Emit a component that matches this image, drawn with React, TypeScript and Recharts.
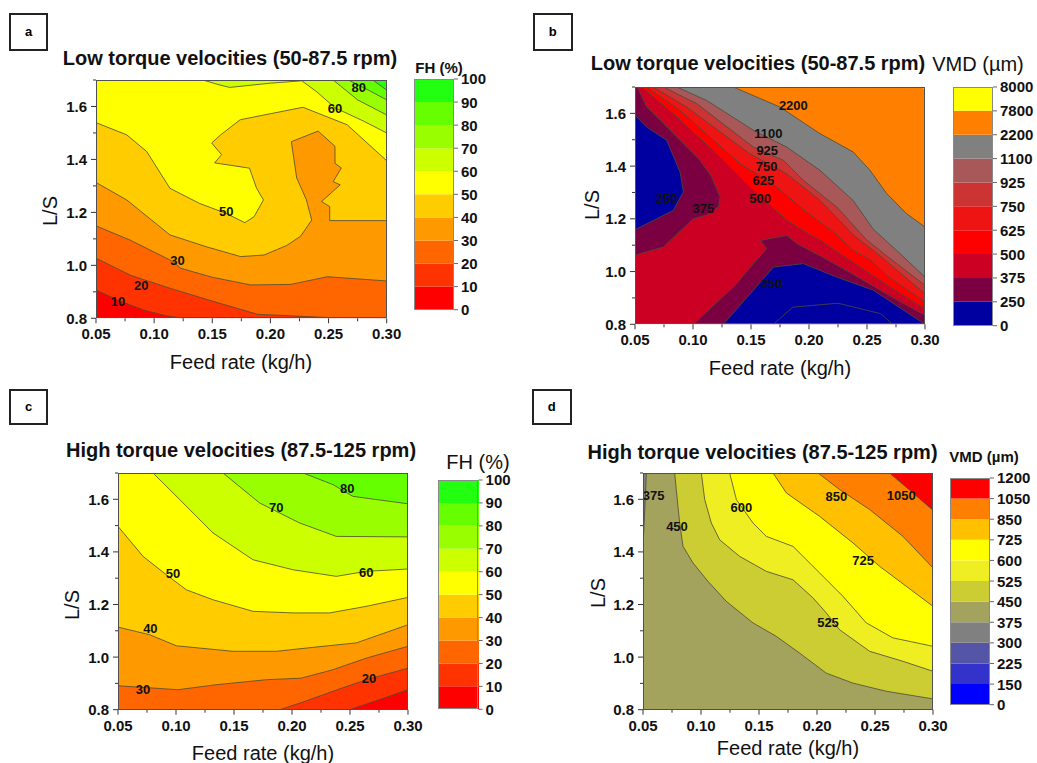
import React from 'react';
import { ComposedChart, Area, Line, Scatter, XAxis, YAxis, BarChart, Bar } from 'recharts';

type Pt = { x: number; y: number };
type Label = { x: number; y: number; t: string };
type Box = { l: number; t: number; r: number; b: number };

const FONT = '"Liberation Sans", Arial, Helvetica, sans-serif';

const X_TICKS = [0.05, 0.075, 0.1, 0.125, 0.15, 0.175, 0.2, 0.225, 0.25, 0.275, 0.3];
const Y_TICKS = [0.8, 0.9, 1.0, 1.1, 1.2, 1.3, 1.4, 1.5, 1.6, 1.7];

// colour scales
const FH_LEVELS = ['0', '10', '20', '30', '40', '50', '60', '70', '80', '90', '100'];
const FH_COLORS = ['#FF0000', '#FF3300', '#FF6600', '#FF9900', '#FFCC00', '#FFFF00', '#CCFF00', '#99FF00', '#66FF00', '#22FF11'];
const VMD_LOW_LEVELS = ['0', '250', '375', '500', '625', '750', '925', '1100', '2200', '7800', '8000'];
const VMD_LOW_COLORS = ['#0000A0', '#7A0042', '#CC0022', '#FF0000', '#EE1414', '#CC3434', '#A85858', '#808080', '#FF8000', '#FFFF00'];
const VMD_HIGH_LEVELS = ['0', '150', '225', '300', '375', '450', '525', '600', '725', '850', '1050', '1200'];
const VMD_HIGH_COLORS = ['#0000FF', '#3333CC', '#5555A8', '#808080', '#A3A35E', '#CCCC33', '#EEEE22', '#FFFF00', '#FFC000', '#FF8000', '#FF0000'];

// (a) FH, low torque - contour lines [feed rate, L/S]
const A_C10 = [[0.05, 0.907], [0.069, 0.868], [0.091, 0.831], [0.11, 0.81], [0.125, 0.8]];
const A_C20 = [[0.05, 1.027], [0.08, 0.962], [0.114, 0.913], [0.15, 0.865], [0.189, 0.815], [0.249, 0.803], [0.3, 0.802]];
const A_C30 = [[0.05, 1.149], [0.079, 1.096], [0.1165, 1.014], [0.1228, 0.989], [0.15, 0.955], [0.183, 0.926], [0.2175, 0.928], [0.249, 0.957], [0.3, 0.941]];
const A_C40 = [[0.05, 1.313], [0.0764, 1.247], [0.1136, 1.115], [0.145, 1.07], [0.1745, 1.033], [0.1945, 1.039], [0.214, 1.075], [0.226, 1.11], [0.2355, 1.171], [0.231, 1.247], [0.2226, 1.33], [0.218, 1.467], [0.241, 1.507], [0.2555, 1.45], [0.2556, 1.385], [0.261, 1.368], [0.254, 1.316], [0.26, 1.304], [0.244, 1.241], [0.251, 1.222], [0.251, 1.169], [0.3, 1.169]];
const A_C50 = [[0.05, 1.539], [0.0764, 1.493], [0.0936, 1.43], [0.1136, 1.291], [0.139, 1.234], [0.162, 1.196], [0.178, 1.161], [0.186, 1.184], [0.194, 1.247], [0.188, 1.292], [0.182, 1.367], [0.152, 1.387], [0.158, 1.418], [0.1495, 1.462], [0.157, 1.492], [0.174, 1.55], [0.228, 1.597], [0.266, 1.531], [0.3, 1.395]];
const A_C60 = [[0.142, 1.7], [0.155, 1.683], [0.165, 1.672], [0.2, 1.688], [0.227, 1.697], [0.24, 1.655], [0.2555, 1.595], [0.28, 1.545], [0.3, 1.5]];
const A_C70 = [[0.254, 1.7], [0.275, 1.625], [0.3, 1.568]];
const A_C80 = [[0.267, 1.7], [0.285, 1.66], [0.3, 1.625]];
const A_C90 = [[0.288, 1.7], [0.3, 1.662]];
const A_LABELS: Label[] = [
  { x: 0.069, y: 0.862, t: '10' }, { x: 0.089, y: 0.925, t: '20' }, { x: 0.12, y: 1.02, t: '30' },
  { x: 0.162, y: 1.203, t: '50' }, { x: 0.2555, y: 1.593, t: '60' }, { x: 0.276, y: 1.672, t: '80' },
];

// (b) VMD, low torque
const B_C250_LEFT = [[0.05, 1.593], [0.0601, 1.548], [0.0773, 1.498], [0.0888, 1.378], [0.0917, 1.302], [0.083, 1.232], [0.0658, 1.194], [0.05, 1.159]];
const B_C375_LEFT = [[0.052, 1.7], [0.06, 1.625], [0.075, 1.56], [0.0888, 1.498], [0.106, 1.422], [0.116, 1.36], [0.1233, 1.283], [0.122, 1.245], [0.112, 1.215], [0.1003, 1.2], [0.088, 1.15], [0.0744, 1.093], [0.06, 1.075], [0.05, 1.062]];
const B_C375_LOW = [[0.1003, 0.8], [0.115, 0.86], [0.1376, 0.954], [0.152, 1.03], [0.1635, 1.087], [0.158, 1.118], [0.1808, 1.137], [0.19, 1.105], [0.2095, 1.06], [0.238, 0.99], [0.267, 0.915], [0.285, 0.87], [0.3, 0.834]];
const B_C250_LOW = [[0.1262, 0.8], [0.152, 0.929], [0.1693, 1.017], [0.1951, 1.03], [0.2239, 0.979], [0.2555, 0.929], [0.3, 0.8]];
const B_INNER = [[0.1693, 0.8], [0.186, 0.865], [0.225, 0.88], [0.262, 0.84], [0.272, 0.8]];
const B_C500 = [[0.0557, 1.7], [0.083, 1.599], [0.1233, 1.435], [0.152, 1.308], [0.1808, 1.195], [0.2009, 1.14], [0.2095, 1.12], [0.238, 1.035], [0.267, 0.95], [0.3, 0.859]];
const B_C625 = [[0.06, 1.7], [0.0888, 1.611], [0.1405, 1.409], [0.1721, 1.321], [0.1951, 1.235], [0.2239, 1.14], [0.238, 1.08], [0.2526, 1.045], [0.267, 0.985], [0.3, 0.885]];
const B_C750 = [[0.0658, 1.7], [0.0945, 1.624], [0.149, 1.447], [0.1808, 1.371], [0.2095, 1.27], [0.238, 1.14], [0.2612, 1.06], [0.3, 0.916]];
const B_C925 = [[0.0744, 1.7], [0.1032, 1.637], [0.152, 1.472], [0.1779, 1.422], [0.1951, 1.346], [0.2239, 1.245], [0.2497, 1.12], [0.2727, 1.04], [0.3, 0.948]];
const B_C1100 = [[0.086, 1.7], [0.1118, 1.649], [0.152, 1.536], [0.1808, 1.472], [0.2095, 1.384], [0.238, 1.27], [0.2555, 1.16], [0.2756, 1.08], [0.3, 0.979]];
const B_C2200 = [[0.1348, 1.7], [0.175, 1.624], [0.2095, 1.523], [0.238, 1.454], [0.2526, 1.384], [0.267, 1.296], [0.284, 1.22], [0.3, 1.169]];
const B_C7800 = [[0.297, 1.7], [0.3, 1.69]];
const B_LABELS: Label[] = [
  { x: 0.0773, y: 1.277, t: '250' }, { x: 0.109, y: 1.239, t: '375' }, { x: 0.1578, y: 1.277, t: '500' },
  { x: 0.1606, y: 1.346, t: '625' }, { x: 0.1635, y: 1.4, t: '750' }, { x: 0.164, y: 1.46, t: '925' },
  { x: 0.165, y: 1.523, t: '1100' }, { x: 0.1865, y: 1.628, t: '2200' }, { x: 0.1678, y: 0.954, t: '250' },
];

// (c) FH, high torque
const C_C10 = [[0.2497, 0.8], [0.27, 0.83], [0.3, 0.876]];
const C_C20 = [[0.1894, 0.8], [0.21, 0.83], [0.2353, 0.87], [0.264, 0.914], [0.3, 0.958]];
const C_C30 = [[0.05, 0.891], [0.1017, 0.876], [0.1348, 0.895], [0.1779, 0.914], [0.208, 0.92], [0.2353, 0.952], [0.264, 0.996], [0.3, 1.041]];
const C_C40 = [[0.05, 1.114], [0.0773, 1.085], [0.1003, 1.043], [0.1491, 1.022], [0.1865, 1.022], [0.2267, 1.041], [0.2555, 1.054], [0.3, 1.123]];
const C_C50 = [[0.05, 1.497], [0.0716, 1.383], [0.0917, 1.313], [0.1089, 1.256], [0.1319, 1.218], [0.1664, 1.174], [0.2009, 1.168], [0.2325, 1.168], [0.264, 1.193], [0.3, 1.227]];
const C_C60 = [[0.0802, 1.7], [0.1032, 1.599], [0.1319, 1.472], [0.1664, 1.37], [0.2009, 1.332], [0.2382, 1.307], [0.264, 1.326], [0.3, 1.335]];
const C_C70 = [[0.1405, 1.7], [0.1721, 1.586], [0.2066, 1.51], [0.2382, 1.459], [0.3, 1.457]];
const C_C80 = [[0.2095, 1.7], [0.2353, 1.656], [0.2526, 1.611], [0.3, 1.583]];
const C_LABELS: Label[] = [
  { x: 0.2477, y: 1.64, t: '80' }, { x: 0.1865, y: 1.567, t: '70' }, { x: 0.0974, y: 1.316, t: '50' },
  { x: 0.264, y: 1.322, t: '60' }, { x: 0.0779, y: 1.107, t: '40' }, { x: 0.0716, y: 0.876, t: '30' },
  { x: 0.2664, y: 0.917, t: '20' },
];

// (d) VMD, high torque
const D_C375 = [[0.0529, 1.7], [0.0523, 1.637], [0.0506, 1.472], [0.05, 1.45]];
const D_C450 = [[0.0773, 1.7], [0.0787, 1.637], [0.0816, 1.51], [0.0845, 1.421], [0.0931, 1.358], [0.106, 1.288], [0.1218, 1.212], [0.1448, 1.13], [0.1649, 1.079], [0.1851, 1.015], [0.208, 0.939], [0.231, 0.901], [0.2598, 0.87], [0.3, 0.841]];
const D_C525 = [[0.1003, 1.7], [0.1032, 1.599], [0.1089, 1.51], [0.1161, 1.446], [0.1333, 1.383], [0.1563, 1.326], [0.1793, 1.294], [0.1966, 1.225], [0.208, 1.168], [0.2195, 1.104], [0.2454, 1.022], [0.2741, 0.984], [0.3, 0.946]];
const D_C600 = [[0.1247, 1.7], [0.1305, 1.599], [0.1448, 1.51], [0.1563, 1.459], [0.1793, 1.421], [0.2023, 1.32], [0.2224, 1.231], [0.2425, 1.13], [0.2655, 1.073], [0.3, 1.041]];
const D_C725 = [[0.1621, 1.7], [0.1736, 1.624], [0.2023, 1.535], [0.231, 1.434], [0.254, 1.345], [0.277, 1.269], [0.3, 1.193]];
const D_C850 = [[0.2009, 1.7], [0.2195, 1.637], [0.2454, 1.561], [0.2741, 1.459], [0.3, 1.339]];
const D_C1050 = [[0.2626, 1.7], [0.2828, 1.624], [0.3, 1.558]];
const D_LABELS: Label[] = [
  { x: 0.0592, y: 1.614, t: '375' }, { x: 0.0793, y: 1.495, t: '450' }, { x: 0.1348, y: 1.569, t: '600' },
  { x: 0.2095, y: 1.133, t: '525' }, { x: 0.2397, y: 1.367, t: '725' }, { x: 0.2167, y: 1.611, t: '850' },
  { x: 0.2727, y: 1.614, t: '1050' },
];

// plot domain corners, used to close filled regions
const X0 = 0.05, X1 = 0.3, Y0 = 0.8, Y1 = 1.7;
const FULL = [[X0, Y0], [X1, Y0], [X1, Y1], [X0, Y1]];
const TL = [X0, Y1], TR = [X1, Y1], BR = [X1, Y0], BL = [X0, Y0];

const toPts = (a: number[][]): Pt[] => a.map(([x, y]) => ({ x, y }));
const poly = (a: number[][], color: string) => ({ pts: toPts([...a, a[0]]), color });

const A_POLYS = [
  poly(FULL, FH_COLORS[0]),
  poly([...A_C10, BR, TR, TL], FH_COLORS[1]),
  poly([...A_C20, TR, TL], FH_COLORS[2]),
  poly([...A_C30, TR, TL], FH_COLORS[3]),
  poly([...A_C40, TR, TL], FH_COLORS[4]),
  poly([...A_C50, TR, TL], FH_COLORS[5]),
  poly([...A_C60, TR], FH_COLORS[6]),
  poly([...A_C70, TR], FH_COLORS[7]),
  poly([...A_C80, TR], FH_COLORS[8]),
  poly([...A_C90, TR], FH_COLORS[9]),
];
const A_LINES = [A_C10, A_C20, A_C30, A_C40, A_C50, A_C60, A_C70, A_C80, A_C90];

const B_POLYS = [
  poly(FULL, VMD_LOW_COLORS[2]),
  poly([...B_C375_LEFT, TL], VMD_LOW_COLORS[1]),
  poly(B_C250_LEFT, VMD_LOW_COLORS[0]),
  poly([...B_C375_LOW, BR], VMD_LOW_COLORS[1]),
  poly(B_C250_LOW, VMD_LOW_COLORS[0]),
  poly([...B_C500, TR], VMD_LOW_COLORS[3]),
  poly([...B_C625, TR], VMD_LOW_COLORS[4]),
  poly([...B_C750, TR], VMD_LOW_COLORS[5]),
  poly([...B_C925, TR], VMD_LOW_COLORS[6]),
  poly([...B_C1100, TR], VMD_LOW_COLORS[7]),
  poly([...B_C2200, TR], VMD_LOW_COLORS[8]),
  poly([...B_C7800, TR], VMD_LOW_COLORS[9]),
];
const B_LINES = [B_C250_LEFT, B_C375_LEFT, B_C375_LOW, B_C250_LOW, B_INNER, B_C500, B_C625, B_C750, B_C925, B_C1100, B_C2200];

const C_POLYS = [
  poly(FULL, FH_COLORS[1]),
  poly([...C_C10, BR], FH_COLORS[0]),
  poly([...C_C20, TR, TL, BL], FH_COLORS[2]),
  poly([...C_C30, TR, TL], FH_COLORS[3]),
  poly([...C_C40, TR, TL], FH_COLORS[4]),
  poly([...C_C50, TR, TL], FH_COLORS[5]),
  poly([...C_C60, TR], FH_COLORS[6]),
  poly([...C_C70, TR], FH_COLORS[7]),
  poly([...C_C80, TR], FH_COLORS[8]),
];
const C_LINES = [C_C10, C_C20, C_C30, C_C40, C_C50, C_C60, C_C70, C_C80];

const D_POLYS = [
  poly(FULL, VMD_HIGH_COLORS[4]),
  poly([...D_C375, TL], VMD_HIGH_COLORS[3]),
  poly([...D_C450, TR], VMD_HIGH_COLORS[5]),
  poly([...D_C525, TR], VMD_HIGH_COLORS[6]),
  poly([...D_C600, TR], VMD_HIGH_COLORS[7]),
  poly([...D_C725, TR], VMD_HIGH_COLORS[8]),
  poly([...D_C850, TR], VMD_HIGH_COLORS[9]),
  poly([...D_C1050, TR], VMD_HIGH_COLORS[10]),
];
const D_LINES = [D_C375, D_C450, D_C525, D_C600, D_C725, D_C850, D_C1050];

const isMajor = (v: number, step: number) => Math.abs(v / step - Math.round(v / step)) < 1e-6;

const xTick = (axisY: number) => (props: any) => {
  const v = props.payload.value as number;
  const x = props.x;
  const major = isMajor(v, 0.05);
  return (
    <g>
      <line x1={x} x2={x} y1={axisY} y2={axisY + (major ? 5 : 3)} stroke="#333" strokeWidth={1} />
      {major && (
        <text x={x} y={axisY + 21} textAnchor="middle" fontSize={15} fontWeight="bold" fontFamily={FONT} fill="#111">
          {v.toFixed(2)}
        </text>
      )}
    </g>
  );
};

const yTick = (axisX: number) => (props: any) => {
  const v = props.payload.value as number;
  const y = props.y;
  const major = isMajor(v, 0.2);
  return (
    <g>
      <line x1={axisX} x2={axisX - (major ? 5 : 3)} y1={y} y2={y} stroke="#333" strokeWidth={1} />
      {major && v < 1.65 && (
        <text x={axisX - 9} y={y + 5.5} textAnchor="end" fontSize={15} fontWeight="bold" fontFamily={FONT} fill="#111">
          {v.toFixed(1)}
        </text>
      )}
    </g>
  );
};

const labelShape = (props: any) => (
  <text x={props.cx} y={props.cy + 4.5} textAnchor="middle" fontSize={13} fontWeight="bold" fontFamily={FONT} fill="#111">
    {props.payload.t}
  </text>
);

function ContourPanel({ plot, polys, lines, labels }: { plot: Box; polys: { pts: Pt[]; color: string }[]; lines: number[][][]; labels: Label[] }) {
  const w = plot.r - plot.l;
  const h = plot.b - plot.t;
  return (
    <div style={{ position: 'absolute', left: plot.l - 60, top: plot.t - 10 }}>
      <ComposedChart width={w + 95} height={h + 65} margin={{ top: 10, right: 35, bottom: 0, left: 0 }}>
        <XAxis dataKey="x" type="number" domain={[X0, X1]} ticks={X_TICKS} interval={0} allowDataOverflow height={55}
          axisLine={false} tickLine={false} tick={xTick(10 + h)} />
        <YAxis dataKey="y" type="number" domain={[Y0, Y1]} ticks={Y_TICKS} interval={0} allowDataOverflow width={60}
          axisLine={false} tickLine={false} tick={yTick(60)} />
        {polys.map((pg, i) => (
          <Area key={'p' + i} data={pg.pts} dataKey="y" type="linear" baseValue={pg.pts[0].y}
            fill={pg.color} fillOpacity={1} stroke="none" dot={false} activeDot={false} isAnimationActive={false} />
        ))}
        {lines.map((ln, i) => (
          <Line key={'l' + i} data={toPts(ln)} dataKey="y" type="linear" stroke="#4a4a3a" strokeWidth={0.8}
            dot={false} activeDot={false} isAnimationActive={false} />
        ))}
        <Scatter data={labels} shape={labelShape} isAnimationActive={false} />
      </ComposedChart>
      <div style={{ position: 'absolute', left: 60, top: 10, width: w, height: h, border: '1px solid #505050', boxSizing: 'border-box', pointerEvents: 'none' }} />
    </div>
  );
}

const cbTick = (barW: number, levels: string[]) => (props: any) => {
  const i = props.payload.value as number;
  const y = props.y;
  return (
    <g>
      <line x1={barW} x2={barW + 4} y1={y} y2={y} stroke="#666" strokeWidth={1} />
      <text x={barW + 7} y={y + 5.5} fontSize={15} fontWeight="bold" fontFamily={FONT} fill="#111">
        {levels[i]}
      </text>
    </g>
  );
};

function Colorbar({ l, t, w, h, colors, levels }: { l: number; t: number; w: number; h: number; colors: string[]; levels: string[] }) {
  const row: Record<string, number | string> = { name: 'cb' };
  colors.forEach((_, i) => { row['b' + i] = 1; });
  const ticks = levels.map((_, i) => i);
  return (
    <div style={{ position: 'absolute', left: l, top: t - 10 }}>
      <BarChart width={w + 60} height={h + 20} data={[row]} margin={{ top: 10, right: 0, bottom: 10, left: 0 }} barCategoryGap={0}>
        <XAxis dataKey="name" hide />
        <YAxis orientation="right" type="number" domain={[0, colors.length]} ticks={ticks} interval={0} width={60}
          axisLine={false} tickLine={false} tick={cbTick(w, levels)} allowDataOverflow />
        {colors.map((c, i) => (
          <Bar key={i} dataKey={'b' + i} stackId="s" fill={c} isAnimationActive={false} />
        ))}
      </BarChart>
      <div style={{ position: 'absolute', left: 0, top: 10, width: w, height: h, border: '1px solid #8a8a8a', boxSizing: 'border-box', pointerEvents: 'none' }} />
    </div>
  );
}

function Txt({ x, y, size, bold, rotate, children }: { x: number; y: number; size: number; bold?: boolean; rotate?: boolean; children: React.ReactNode }) {
  return (
    <div style={{
      position: 'absolute', left: x, top: y, transform: `translate(-50%, -50%)${rotate ? ' rotate(-90deg)' : ''}`,
      whiteSpace: 'nowrap', fontSize: size, fontWeight: bold ? 'bold' : 'normal', fontFamily: FONT, lineHeight: 1, color: '#111',
    }}>
      {children}
    </div>
  );
}

function PanelTag({ l, t, w, h, letter }: { l: number; t: number; w: number; h: number; letter: string }) {
  return (
    <div style={{
      position: 'absolute', left: l, top: t, width: w, height: h, border: '2px solid #222', boxSizing: 'border-box',
      display: 'flex', alignItems: 'center', justifyContent: 'center', fontFamily: FONT, fontWeight: 'bold', fontSize: 13,
    }}>
      {letter}
    </div>
  );
}

export default function App() {
  return (
    <div style={{ position: 'absolute', left: 0, top: 0, width: 1037, height: 763, background: '#fff', overflow: 'hidden' }}>
      <PanelTag l={9} t={12.5} w={39} h={38.5} letter="a" />
      <PanelTag l={532.5} t={12.5} w={40.5} h={38.5} letter="b" />
      <PanelTag l={9} t={389} w={39} h={35.5} letter="c" />
      <PanelTag l={531.5} t={389} w={40.5} h={35.5} letter="d" />

      <Txt x={230} y={58} size={20} bold>Low torque velocities (50-87.5 rpm)</Txt>
      <Txt x={758} y={62.5} size={20} bold>Low torque velocities (50-87.5 rpm)</Txt>
      <Txt x={241} y={449.5} size={20} bold>High torque velocities (87.5-125 rpm)</Txt>
      <Txt x={762.5} y={452} size={20} bold>High torque velocities (87.5-125 rpm)</Txt>

      <Txt x={439} y={67} size={15} bold>FH (%)</Txt>
      <Txt x={978} y={64} size={20}>VMD (µm)</Txt>
      <Txt x={478} y={462} size={20}>FH (%)</Txt>
      <Txt x={984} y={456} size={15} bold>VMD (µm)</Txt>

      <ContourPanel plot={{ l: 96, t: 80, r: 386.7, b: 318.3 }} polys={A_POLYS} lines={A_LINES} labels={A_LABELS} />
      <ContourPanel plot={{ l: 635, t: 86.7, r: 925, b: 324 }} polys={B_POLYS} lines={B_LINES} labels={B_LABELS} />
      <ContourPanel plot={{ l: 118.3, t: 473.3, r: 408.3, b: 710 }} polys={C_POLYS} lines={C_LINES} labels={C_LABELS} />
      <ContourPanel plot={{ l: 643.3, t: 473.3, r: 933.3, b: 710 }} polys={D_POLYS} lines={D_LINES} labels={D_LABELS} />

      <Colorbar l={414} t={79.3} w={40} h={230.7} colors={FH_COLORS} levels={FH_LEVELS} />
      <Colorbar l={953.3} t={87.3} w={40} h={238.7} colors={VMD_LOW_COLORS} levels={VMD_LOW_LEVELS} />
      <Colorbar l={437.7} t={480} w={40.6} h={229.3} colors={FH_COLORS} levels={FH_LEVELS} />
      <Colorbar l={950} t={478.3} w={40} h={226.7} colors={VMD_HIGH_COLORS} levels={VMD_HIGH_LEVELS} />

      <Txt x={241} y={362} size={20}>Feed rate (kg/h)</Txt>
      <Txt x={780} y={368} size={20}>Feed rate (kg/h)</Txt>
      <Txt x={263} y={753} size={20}>Feed rate (kg/h)</Txt>
      <Txt x={788} y={748} size={20}>Feed rate (kg/h)</Txt>
      <Txt x={50} y={211} size={20} rotate>L/S</Txt>
      <Txt x={592} y={205} size={20} rotate>L/S</Txt>
      <Txt x={72} y={605} size={20} rotate>L/S</Txt>
      <Txt x={598} y={593} size={20} rotate>L/S</Txt>
    </div>
  );
}
